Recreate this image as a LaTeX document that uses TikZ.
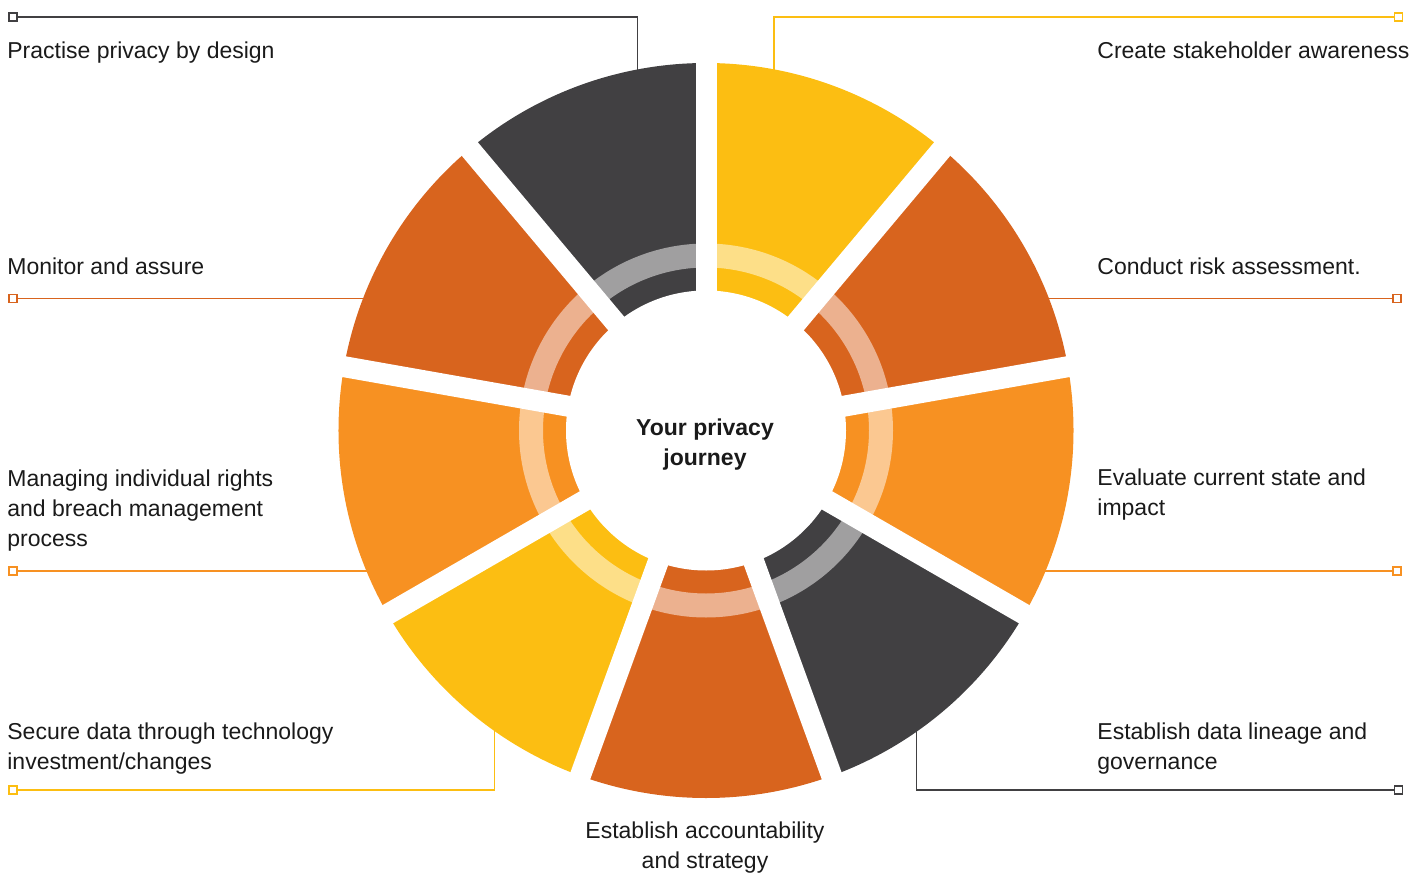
\documentclass[tikz,border=0pt]{standalone}
\usepackage{fontspec}
\setmainfont{Liberation Sans}

\definecolor{pwyellow}{HTML}{FCBE12}
\definecolor{pwdark}{HTML}{D8641E}
\definecolor{pworange}{HTML}{F79122}
\definecolor{pwgray}{HTML}{414042}
\definecolor{ink}{HTML}{1A1A1A}

\begin{document}
\begin{tikzpicture}[x=0.5pt, y=0.5pt,
            every node/.style={inner sep=0pt, text=ink, font=\fontsize{11.5}{15}\selectfont},
            lbl/.style={align=left, anchor=base west},
            endbox/.style={draw=#1, fill=white, line width=0.75pt, minimum size=3.8pt},
            wire/.style={line width=0.75pt},
            ]
            \useasboundingbox (-706,-441.5) rectangle (716,430.5);

            % end points of the connectors, inside the wheel
            \coordinate (pPD) at (-68.3,355);
            \coordinate (pCS) at (68,355);
            \coordinate (pMA) at (-335,132);
            \coordinate (pCR) at (335,132);
            \coordinate (pMI) at (-330,-140.5);
            \coordinate (pEV) at (330,-140.5);
            \coordinate (pSD) at (-211.7,-295);
            \coordinate (pDL) at (210.7,-295);

            \node[endbox=pwgray] (sqPD) at (-693,413.5) {};
            \node[endbox=pwyellow] (sqCS) at (692.5,413.5) {};
            \node[endbox=pwdark] (sqMA) at (-693,132) {};
            \node[endbox=pwdark] (sqCR) at (691,132) {};
            \node[endbox=pworange] (sqMI) at (-693,-140.5) {};
            \node[endbox=pworange] (sqEV) at (691,-140.5) {};
            \node[endbox=pwyellow] (sqSD) at (-693,-359.5) {};
            \node[endbox=pwgray] (sqDL) at (692.5,-359.5) {};

            \draw[wire, pwgray] (pPD) |- (sqPD);
            \draw[wire, pwyellow] (pCS) |- (sqCS);
            \draw[wire, pwdark] (pMA) |- (sqMA);
            \draw[wire, pwdark] (pCR) |- (sqCR);
            \draw[wire, pworange] (pMI) |- (sqMI);
            \draw[wire, pworange] (pEV) |- (sqEV);
            \draw[wire, pwyellow] (pSD) |- (sqSD);
            \draw[wire, pwgray] (pDL) |- (sqDL);

            % wheel
            \foreach \col [count=\i from 0] in {pwyellow,pwdark,pworange,pwgray,pwdark,pwyellow,pworange,pwdark,pwgray}{
                \pgfmathsetmacro\st{90-40*\i}
                \fill[\col] (0,0) -- (\st:367.5) arc[start angle=\st, delta angle=-40, radius=367.5] -- cycle;
                \fill[\col!50!white] (\st:187) arc[start angle=\st, delta angle=-40, radius=187]
                    -- ({\st-40}:163) arc[start angle={\st-40}, delta angle=40, radius=163] -- cycle;
            }
            \foreach \b in {90,50,...,-230}
                \draw[white, line width=10.5pt] (0,0) -- (\b:369);
            \fill[white] (0,0) circle[radius=140];

            % base = last line
            \node[font=\fontsize{11.5}{15}\selectfont\bfseries, align=center, anchor=base] (hub) at (-1,-35) {Your privacy\\journey};

            \node[lbl] (labPD) at (-699,371.5) {Practise privacy by design};
            \node[lbl] (labMA) at (-699,155.5) {Monitor and assure};
            \node[lbl] (labMI) at (-699,-115.5) {Managing individual rights\\and breach management\\process};
            \node[lbl] (labSD) at (-699,-339) {Secure data through technology\\investment/changes};
            \node[lbl] (labCS) at (391,371.5) {Create stakeholder awareness};
            \node[lbl] (labCR) at (391,155.5) {Conduct risk assessment.};
            \node[lbl] (labEV) at (391,-85) {Evaluate current state and\\impact};
            \node[lbl] (labDL) at (391,-339) {Establish data lineage and\\governance};
            \node[align=center, anchor=base] (labAS) at (-1,-437.8) {Establish accountability\\and strategy};
\end{tikzpicture}
\end{document}
